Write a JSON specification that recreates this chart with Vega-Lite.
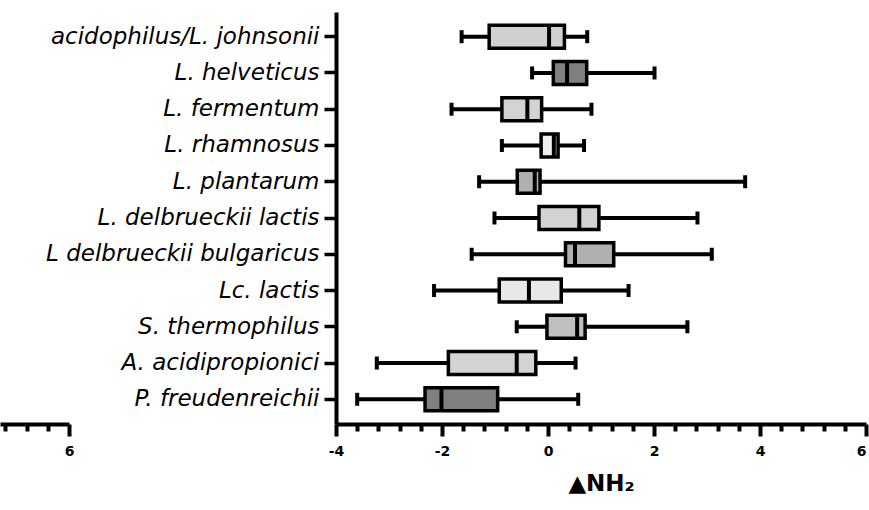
{
  "$schema": "https://vega.github.io/schema/vega-lite/v6.json",
  "autosize": {"type": "none"},
  "padding": {"left": 336, "top": 12, "right": 3, "bottom": 86},
  "width": 530,
  "height": 412,
  "config": {
    "view": {"stroke": null},
    "axis": {"grid": false, "labelOverlap": false, "domainColor": "black", "tickColor": "black", "labelColor": "black", "titleColor": "black"},
    "axisX": {"labelFont": "DejaVu Sans", "labelFontWeight": "bold", "labelFontSize": 14}
  },
  "data": {
    "values": [
      {"species": "acidophilus/L. johnsonii", "lo": -1.63, "q1": -1.11, "med": 0.02, "q3": 0.31, "hi": 0.74},
      {"species": "L. helveticus", "lo": -0.30, "q1": 0.10, "med": 0.36, "q3": 0.73, "hi": 2.01},
      {"species": "L. fermentum", "lo": -1.82, "q1": -0.87, "med": -0.39, "q3": -0.12, "hi": 0.82},
      {"species": "L. rhamnosus", "lo": -0.87, "q1": -0.13, "med": 0.11, "q3": 0.19, "hi": 0.68},
      {"species": "L. plantarum", "lo": -1.30, "q1": -0.58, "med": -0.25, "q3": -0.15, "hi": 3.72},
      {"species": "L. delbrueckii lactis", "lo": -1.01, "q1": -0.17, "med": 0.59, "q3": 0.96, "hi": 2.82},
      {"species": "L delbrueckii bulgaricus", "lo": -1.44, "q1": 0.33, "med": 0.51, "q3": 1.24, "hi": 3.09},
      {"species": "Lc. lactis", "lo": -2.15, "q1": -0.92, "med": -0.36, "q3": 0.25, "hi": 1.52},
      {"species": "S. thermophilus", "lo": -0.59, "q1": -0.02, "med": 0.55, "q3": 0.70, "hi": 2.63},
      {"species": "A. acidipropionici", "lo": -3.23, "q1": -1.88, "med": -0.59, "q3": -0.23, "hi": 0.52},
      {"species": "P. freudenreichii", "lo": -3.60, "q1": -2.32, "med": -2.01, "q3": -0.95, "hi": 0.57}
    ]
  },
  "layer": [
    {
      "encoding": {
        "y": {
          "field": "species", "type": "nominal", "sort": null,
          "scale": {"paddingInner": 0.366, "paddingOuter": 0.364},
          "axis": {
            "title": null, "domainWidth": 4, "tickWidth": 3.5, "tickSize": 12,
            "labelFont": "DejaVu Sans", "labelFontStyle": "italic", "labelFontSize": 23,
            "labelPadding": 5, "labelLimit": 0
          }
        }
      },
      "layer": [
        {
          "mark": {"type": "rule", "strokeWidth": 4, "color": "black"},
          "encoding": {
            "x": {
              "field": "lo", "type": "quantitative",
              "scale": {"domain": [-4, 6], "nice": false, "zero": false},
              "axis": {
                "orient": "bottom",
                "title": "▲NH₂",
                "titleFont": "DejaVu Sans", "titleFontWeight": "bold", "titleFontSize": 23, "titlePadding": 14,
                "values": [-4, -2, 0, 2, 4, 6],
                "tickSize": 12,
                "labelExpr": "'' + datum.value",
                "labelAlign": {"condition": {"test": "datum.value === 6", "value": "right"}, "value": "center"},
                "labelOverlap": false, "labelBound": false, "labelFlush": false,
                "labelFont": "DejaVu Sans", "labelFontWeight": "bold", "labelFontSize": 14,
                "labelPadding": 8,
                "domainWidth": 4, "tickWidth": 4
              }
            },
            "x2": {"field": "hi"}
          }
        },
        {
          "mark": {"type": "tick", "thickness": 4, "size": 13, "color": "black", "opacity": 1},
          "encoding": {"x": {"field": "lo", "type": "quantitative"}}
        },
        {
          "mark": {"type": "tick", "thickness": 4, "size": 13, "color": "black", "opacity": 1},
          "encoding": {"x": {"field": "hi", "type": "quantitative"}}
        },
        {
          "mark": {"type": "bar", "stroke": "black", "strokeWidth": 3.5, "opacity": 1},
          "encoding": {
            "x": {"field": "q1", "type": "quantitative"},
            "x2": {"field": "q3"},
            "color": {
              "field": "species", "type": "nominal", "legend": null,
              "scale": {
                "domain": ["acidophilus/L. johnsonii", "L. helveticus", "L. fermentum", "L. rhamnosus", "L. plantarum", "L. delbrueckii lactis", "L delbrueckii bulgaricus", "Lc. lactis", "S. thermophilus", "A. acidipropionici", "P. freudenreichii"],
                "range": ["#d0d0d0", "#808080", "#d3d3d3", "#f0f0f0", "#b0b0b0", "#d3d3d3", "#b0b0b0", "#e8e8e8", "#c0c0c0", "#d3d3d3", "#808080"]
              }
            }
          }
        },
        {
          "mark": {"type": "tick", "thickness": 4, "size": 23, "color": "black", "opacity": 1},
          "encoding": {"x": {"field": "med", "type": "quantitative"}}
        }
      ]
    },
    {
      "mark": {"type": "tick", "opacity": 0},
      "encoding": {
        "x": {
          "field": "hi", "type": "quantitative",
          "scale": {"domain": [-4, 6], "nice": false, "zero": false},
          "axis": {
            "orient": "bottom", "title": null,
            "values": [-3.6, -3.2, -2.8, -2.4, -1.6, -1.2, -0.8, -0.4, 0.4, 0.8, 1.2, 1.6, 2.4, 2.8, 3.2, 3.6, 4.4, 4.8, 5.2, 5.6],
            "tickSize": 7, "tickWidth": 4,
            "labels": false, "domain": false
          }
        }
      }
    },
    {
      "mark": {"type": "tick", "opacity": 0},
      "encoding": {
        "x": {
          "field": "hi", "type": "quantitative",
          "scale": {"domain": [4.7, 6], "range": [-336, -267], "nice": false, "zero": false},
          "axis": {
            "orient": "bottom", "title": null,
            "values": [4.8, 5.2, 5.6, 6],
            "tickSize": {"condition": {"test": "datum.value === 6", "value": 12}, "value": 7},
            "labelExpr": "datum.value === 6 ? '6' : ''",
            "labelOverlap": false, "labelBound": false, "labelFlush": false,
            "labelFont": "DejaVu Sans", "labelFontWeight": "bold", "labelFontSize": 14,
            "labelPadding": 8,
            "domainWidth": 4, "tickWidth": 4
          }
        }
      }
    }
  ],
  "resolve": {"scale": {"x": "independent"}}
}
